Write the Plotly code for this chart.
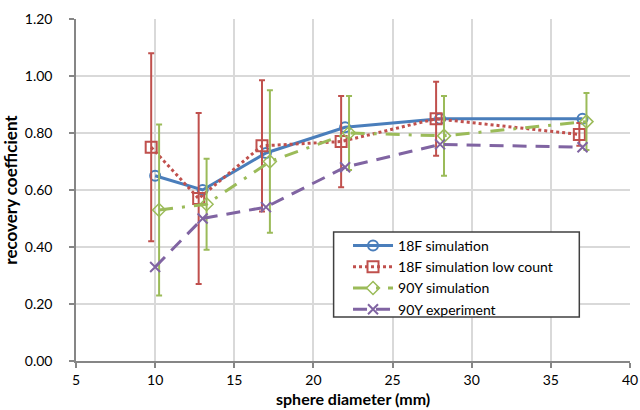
import plotly.graph_objects as go

# Data
x_18f = [10, 13, 17, 22, 28, 37]
y_18f = [0.65, 0.60, 0.73, 0.82, 0.85, 0.85]

x_18f_low = [9.75, 12.75, 16.75, 21.75, 27.75, 36.8]
y_18f_low = [0.75, 0.57, 0.755, 0.77, 0.85, 0.795]
err_18f_low = [0.33, 0.30, 0.23, 0.16, 0.13, 0.04]

x_90y_sim = [10.25, 13.25, 17.25, 22.25, 28.25, 37.25]
y_90y_sim = [0.53, 0.55, 0.70, 0.80, 0.79, 0.84]
err_90y_sim = [0.30, 0.16, 0.25, 0.13, 0.14, 0.10]

x_90y_exp = [10, 13, 17, 22, 28, 37]
y_90y_exp = [0.33, 0.50, 0.54, 0.68, 0.76, 0.75]

names = ["18F simulation", "18F simulation low count", "90Y simulation", "90Y experiment"]
x_title = "sphere diameter (mm)"
y_title = "recovery coefficient"

BLUE = "#4A7EBB"
RED = "#C0504D"
GREEN = "#9BBB59"
PURPLE = "#8064A2"

fig = go.Figure()

fig.add_trace(go.Scatter(
    x=x_18f, y=y_18f, name=names[0], mode="lines+markers",
    line=dict(color=BLUE, width=3),
    marker=dict(symbol="circle-open", size=10, color=BLUE, line=dict(width=2, color=BLUE)),
))
fig.add_trace(go.Scatter(
    x=x_18f_low, y=y_18f_low, name=names[1], mode="lines+markers",
    line=dict(color=RED, width=3, dash="dot"),
    marker=dict(symbol="square-open", size=11, color=RED, line=dict(width=2, color=RED)),
    error_y=dict(type="data", array=err_18f_low, color=RED, thickness=2, width=3),
))
fig.add_trace(go.Scatter(
    x=x_90y_sim, y=y_90y_sim, name=names[2], mode="lines+markers",
    line=dict(color=GREEN, width=3, dash="14px,9px,3px,9px"),
    marker=dict(symbol="diamond-open", size=10, color=GREEN, line=dict(width=1.5, color=GREEN)),
    error_y=dict(type="data", array=err_90y_sim, color=GREEN, thickness=2, width=3),
))
fig.add_trace(go.Scatter(
    x=x_90y_exp, y=y_90y_exp, name=names[3], mode="lines+markers",
    line=dict(color=PURPLE, width=3, dash="14px,9px"),
    marker=dict(symbol="x-thin-open", size=10, color=PURPLE, line=dict(width=2, color=PURPLE)),
))

FONT = "Lato"

# legend frame drawn as a paper-anchored rectangle
fig.add_shape(
    type="rect", xref="paper", yref="paper",
    x0=0.465, x1=0.9085, y0=0.129, y1=0.377,
    line=dict(color="#404040", width=1.5), fillcolor="white", layer="above",
)

# x-axis title placed at the bottom edge of the figure
fig.add_annotation(
    text="<b>" + x_title + "</b>", xref="paper", yref="paper",
    x=0.5, y=-0.1433, xanchor="center", yanchor="bottom", showarrow=False,
    font=dict(family=FONT, size=16, color="#000000"),
)

fig.update_layout(
    width=640, height=410,
    margin=dict(l=76, r=10, t=19, b=49),
    paper_bgcolor="white", plot_bgcolor="white",
    font=dict(family=FONT, size=14, color="#000000"),
    showlegend=True,
    legend=dict(
        x=0.491, y=0.383, xanchor="left", yanchor="top",
        bgcolor="rgba(0,0,0,0)", borderwidth=0,
        font=dict(family=FONT, size=14, color="#000000"),
        tracegroupgap=0, itemwidth=40,
    ),
    xaxis=dict(
        range=[5, 40], dtick=5, tick0=5, automargin=False,
        showgrid=True, gridcolor="#D9D9D9", gridwidth=1.5,
        showline=True, linecolor="#868686", linewidth=1.5,
        ticks="outside", ticklen=5, tickcolor="#868686", tickwidth=1.5,
        ticklabelstandoff=0,
        tickfont=dict(family=FONT, size=14),
        zeroline=False,
    ),
    yaxis=dict(
        range=[0, 1.2], dtick=0.2, tickformat=".2f", automargin=False,
        showgrid=True, gridcolor="#D9D9D9", gridwidth=1.5,
        showline=True, linecolor="#868686", linewidth=1.5,
        ticks="outside", ticklen=5, tickcolor="#868686", tickwidth=1.5,
        ticklabelstandoff=14,
        tickfont=dict(family=FONT, size=14),
        zeroline=False,
        title=dict(text="<b>" + y_title + "</b>", font=dict(family=FONT, size=17), standoff=4),
    ),
)

fig.write_html("out.html")
